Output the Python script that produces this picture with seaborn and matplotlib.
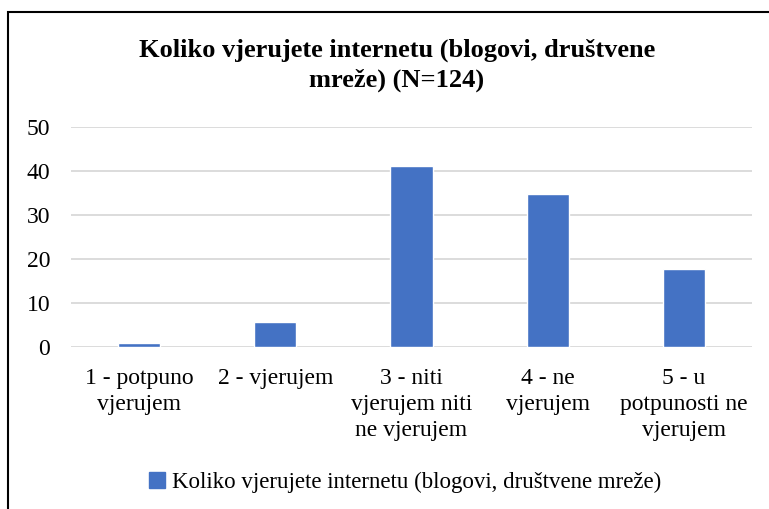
import pandas as pd
import seaborn as sns
import matplotlib.pyplot as plt
from matplotlib.patches import Patch, Rectangle

# chart data (percentages of N=124)
categories = ["1 - potpuno\nvjerujem", "2 - vjerujem", "3 - niti\nvjerujem niti\nne vjerujem",
              "4 - ne\nvjerujem", "5 - u\npotpunosti ne\nvjerujem"]
values = [0.8, 5.6, 41.1, 34.7, 17.7]
yticks = [0, 10, 20, 30, 40, 50]
title = "Koliko vjerujete internetu (blogovi, društvene\nmreže) (N=124)"
series_name = "Koliko vjerujete internetu (blogovi, društvene mreže)"

df = pd.DataFrame({"cat": categories, "val": values})

sns.set_style("white")
serif = ['Liberation Serif', 'DejaVu Serif']
plt.rcParams['font.family'] = serif
plt.rcParams['text.color'] = "black"

bar_color = "#4472C4"
grid_color = "#d9d9d9"

fig = plt.figure(figsize=(7.69, 5.09), dpi=100)
ax = fig.add_axes([0.0923, 0.3189, 0.8857, 0.4312])

sns.barplot(data=df, x="cat", y="val", color=bar_color, saturation=1,
            width=0.31, ax=ax, zorder=3)

ax.set_ylim(0, 50)
ax.set_yticks(yticks)
ax.yaxis.grid(True, color=grid_color, linewidth=1.3, zorder=0)
ax.set_axisbelow(True)
for s in ax.spines.values():
    s.set_visible(False)
ax.tick_params(axis="both", length=0, labelsize=17, colors="black")
ax.tick_params(axis="y", pad=15)
ax.tick_params(axis="x", pad=15)
for lbl in ax.get_xticklabels() + ax.get_yticklabels():
    lbl.set_fontfamily(serif)
for lbl in ax.get_xticklabels():
    lbl.set_linespacing(1.33)
ax.set_xlabel("")
ax.set_ylabel("")

fig.text(0.516, 0.872, title, ha="center", va="center", fontsize=19,
         fontweight="bold", linespacing=1.35, color="black")

fig.legend(handles=[Patch(color=bar_color, label=series_name)], loc="center",
           bbox_to_anchor=(0.527, 0.052), frameon=False, fontsize=16.5,
           handlelength=0.7, handleheight=0.7, handletextpad=0.3,
           labelcolor="black")

# outer chart border (cropped on right and bottom)
fig.patches.append(Rectangle((8 / 769, -0.1), 1.2, 1 - 12 / 509 + 0.1,
                             transform=fig.transFigure, fill=False,
                             edgecolor="black", linewidth=1.5))

plt.savefig("out.png", dpi=100)
